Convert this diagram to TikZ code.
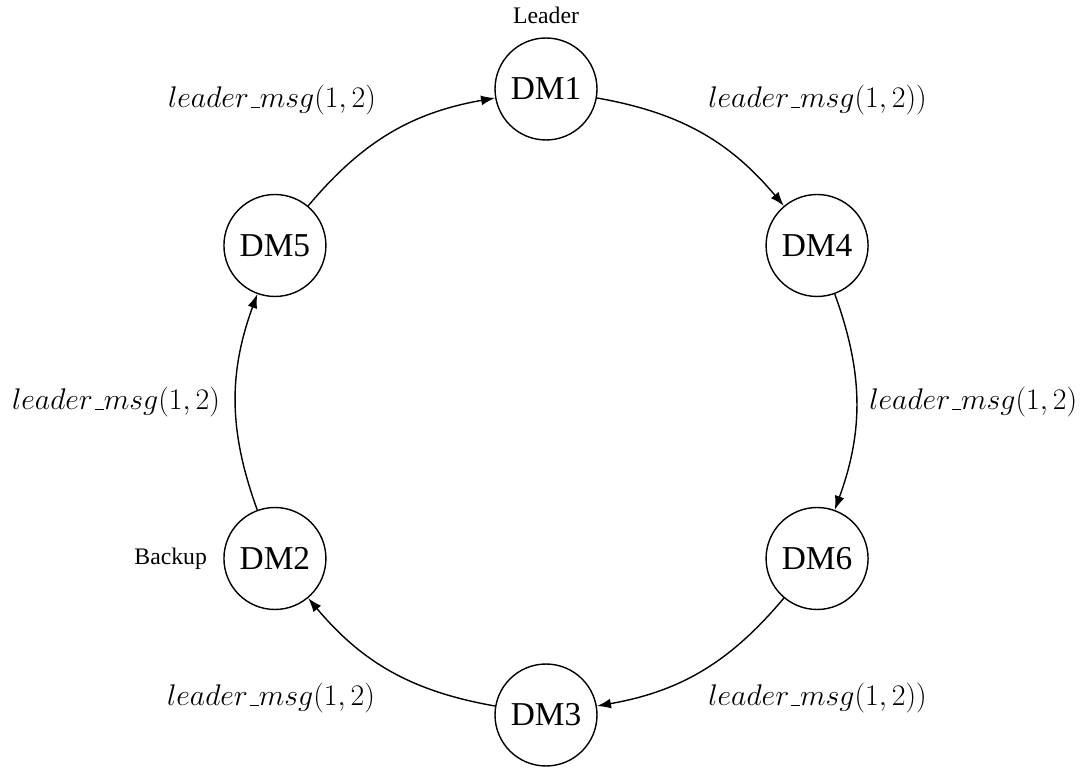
\RequirePackage{fix-cm}
\documentclass[tikz,border=0pt]{standalone}
\usepackage{fontspec}
\setmainfont{Liberation Serif}
\usetikzlibrary{arrows.meta,positioning}

% short low bar between words inside math
\newcommand\lowbar{\mbox{\kern.06em\vbox{\hrule width.3em}}}
\newcommand\lmsg{$leader\lowbar msg(1,2)$}

\begin{document}
\begin{tikzpicture}[x=0.02cm,y=0.02cm,
  dm/.style={circle,draw,line width=0.8pt,minimum size=2.04cm,inner sep=0pt,
    font=\fontsize{19}{22}\selectfont},
  tag/.style={inner sep=0pt,font=\fontsize{13.5}{16}\selectfont},
  lbl/.style={inner sep=0pt,font=\fontsize{17}{20}\selectfont},
  msg/.style={-{Latex[length=8pt,width=5.6pt]},line width=0.8pt}]
\useasboundingbox (0,0) rectangle (1084,767);

% ring of six nodes
\coordinate (c) at (546,365);
\node[dm] (dm1) at ([shift={(90:313)}]c)  {DM1};
\node[dm] (dm4) at ([shift={(30:313)}]c)  {DM4};
\node[dm] (dm6) at ([shift={(-30:313)}]c) {DM6};
\node[dm] (dm3) at ([shift={(-90:313)}]c) {DM3};
\node[dm] (dm2) at ([shift={(210:313)}]c) {DM2};
\node[dm] (dm5) at ([shift={(150:313)}]c) {DM5};

% roles
\node[tag,above=0.26cm of dm1] (lead) {Leader};
\node[tag,left=0.32cm of dm2] (back) {Backup};

% messages passed clockwise
\draw[msg] (dm1) to[bend left=20] (dm4);
\draw[msg] (dm4) to[bend left=20] (dm6);
\draw[msg] (dm6) to[bend left=20] (dm3);
\draw[msg] (dm3) to[bend left=20] (dm2);
\draw[msg] (dm2) to[bend left=20] (dm5);
\draw[msg] (dm5) to[bend left=20] (dm1);

% message labels
\node[lbl] (m51) at (272,667) {\lmsg};
\node[lbl,anchor=west] (m14) at (708,667) {$leader\lowbar msg(1,2))$};
\node[lbl,anchor=west] (m46) at (869,365) {\lmsg};
\node[lbl] (m25) at (116,365) {\lmsg};
\node[lbl] (m32) at (271,69) {\lmsg};
\node[lbl,anchor=west] (m63) at (708,69) {$leader\lowbar msg(1,2))$};
\end{tikzpicture}
\end{document}
